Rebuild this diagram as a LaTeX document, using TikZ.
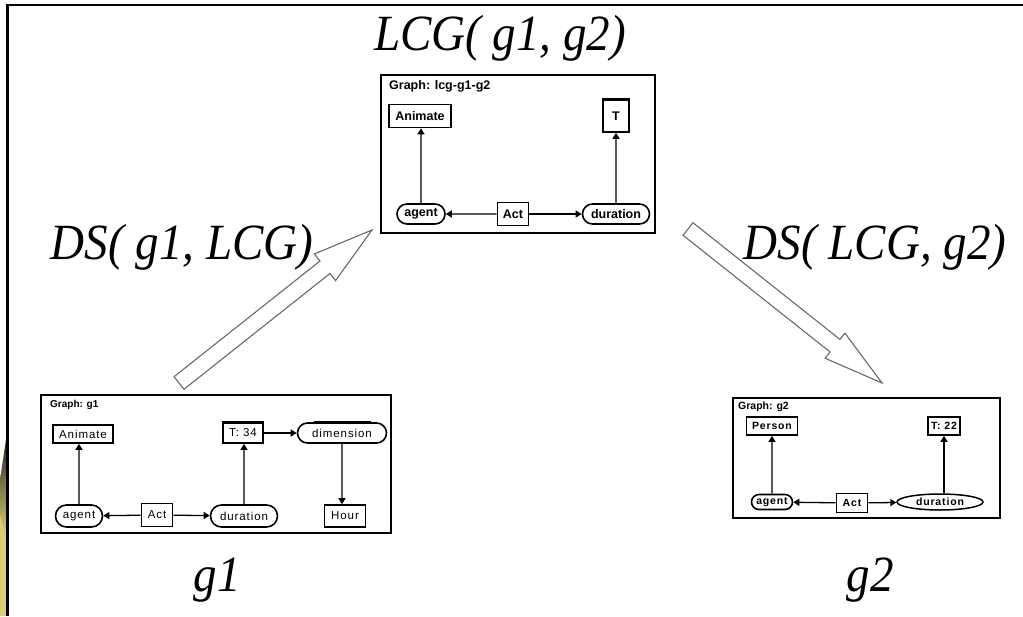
\documentclass[tikz,border=0pt]{standalone}
\usepackage{fontspec}
\setmainfont{Liberation Serif}
\newfontfamily\cgsans{Liberation Sans}
\newfontfamily\cgspaced{Liberation Sans}[LetterSpace=8]
\usetikzlibrary{arrows.meta,shapes.misc,shapes.geometric,calc}
\definecolor{khaki}{RGB}{214,204,122}
\definecolor{arrowgray}{RGB}{105,105,105}
\begin{document}
\begin{tikzpicture}[x=1pt,y=-1pt,
  biglabel/.style={font=\fontsize{47}{56}\selectfont\itshape, inner sep=0pt, anchor=base, yscale=1.08},
  graphbox/.style={draw, rectangle, line width=1.8pt, inner sep=0pt},
  graphname/.style={anchor=west, inner sep=0pt},
  concept/.style={draw, rectangle, line width=1.6pt, inner sep=0pt},
  relation/.style={draw, rounded rectangle, line width=1.6pt, inner sep=0pt},
  ovalrel/.style={draw, ellipse, line width=1.5pt, inner sep=0pt},
  link/.style={line width=1.3pt, -{Triangle[length=6pt,width=7pt]}},
  heavytop/.style={line width=3pt},
  blockarrow/.style={draw=arrowgray, fill=white, line width=1.1pt, line join=miter},
  lcgfont/.style={font=\cgsans\bfseries\fontsize{12.5}{14}\selectfont},
  gonefont/.style={font=\cgspaced\fontsize{11.5}{13}\selectfont},
  gtwofont/.style={font=\cgspaced\bfseries\fontsize{10.5}{12}\selectfont}
]
\useasboundingbox (0,0) rectangle (1023,616);

% page frame and the dark/khaki strip on the left edge
\fill[khaki] (0,480) -- (6,440) -- (6,616) -- (0,616) -- cycle;
\shade[top color=black!85, bottom color=khaki] (0,480) -- (6,440) -- (6,535) -- (0,515) -- cycle;
\coordinate (fbl) at (7.5,616);
\coordinate (ftl) at (7.5,5);
\coordinate (ftr) at (1023,5);
\draw[line width=2.8pt] (fbl) -- (ftl) -- (ftr);

% headings
\node[biglabel] (title) at (500,50) {LCG( g1, g2)};
\node[biglabel] (dsone) at (182,259) {DS( g1, LCG)};
\node[biglabel] (dstwo) at (875,259) {DS( LCG, g2)};
\node[biglabel] (gonelab) at (217,591) {g1};
\node[biglabel] (gtwolab) at (870,591) {g2};

% ---------- graph lcg-g1-g2 ----------
\node[graphbox, minimum width=274pt, minimum height=158pt] (lcgbox) at (518,154) {};
\node[graphname, lcgfont] (lcgname) at (389,86) {Graph: lcg-g1-g2};
\node[concept, lcgfont, minimum width=62pt, minimum height=23pt] (lAnimate) at (420,116) {Animate};
\node[concept, lcgfont, minimum width=26pt, minimum height=32pt] (lT) at (616,116) {T};
\draw[heavytop] (lT.north west) -- (lT.north east);
\node[relation, lcgfont, minimum width=48pt, minimum height=20pt] (lagent) at (421,214) {agent};
\node[concept, lcgfont, minimum width=31pt, minimum height=23pt] (lAct) at (513,214) {Act};
\node[relation, lcgfont, minimum width=67pt, minimum height=20pt] (lduration) at (616,214) {duration};
\draw[link] (lAct) -- (lagent);
\draw[link] (lAct) -- (lduration);
\draw[link] (lagent) -- (lagent |- lAnimate.south);
\draw[link] (lduration) -- (lT);

% ---------- graph g1 ----------
\node[graphbox, line width=1.5pt, minimum width=350pt, minimum height=138pt] (gonebox) at (216,464) {};
\node[graphname, font=\cgsans\bfseries\fontsize{10}{12}\selectfont] (gonename) at (50,405) {Graph: g1};
\node[concept, gonefont, minimum width=60pt, minimum height=18pt] (aAnimate) at (83,434) {Animate};
\node[concept, gonefont, minimum width=40pt, minimum height=20pt] (aT) at (243,433) {T: 34};
\draw[heavytop] (aT.north west) -- (aT.north east);
\node[relation, gonefont, minimum width=89pt, minimum height=20pt] (adimension) at (342,433) {dimension};
\draw[heavytop] ([xshift=6pt]adimension.north west) -- ([xshift=-6pt]adimension.north east);
\node[relation, gonefont, minimum width=47pt, minimum height=22pt] (aagent) at (79,516) {agent};
\node[concept, gonefont, minimum width=31pt, minimum height=23pt] (aAct) at (157,515) {Act};
\node[relation, gonefont, minimum width=67pt, minimum height=22pt] (aduration) at (244,516) {duration};
\node[concept, gonefont, minimum width=41pt, minimum height=22pt] (aHour) at (345,516) {Hour};
\draw[link] (aAct) -- (aagent);
\draw[link] (aAct) -- (aduration);
\draw[link] (aagent) -- (aagent |- aAnimate.south);
\draw[link] (aduration) -- (aduration |- aT.south);
\draw[link] (aT) -- (adimension);
\draw[link] (adimension) -- (adimension |- aHour.north);

% ---------- graph g2 ----------
\node[graphbox, line width=1.5pt, minimum width=267pt, minimum height=120pt] (gtwobox) at (866.5,458) {};
\node[graphname, font=\cgsans\bfseries\fontsize{10.5}{12}\selectfont] (gtwoname) at (738,407) {Graph: g2};
\node[concept, gtwofont, minimum width=51pt, minimum height=18pt] (bPerson) at (772,426) {Person};
\node[concept, gtwofont, minimum width=32pt, minimum height=18pt] (bT) at (944,426) {T: 22};
\node[relation, gtwofont, minimum width=41pt, minimum height=15pt] (bagent) at (772,502) {agent};
\node[concept, gtwofont, minimum width=31pt, minimum height=19pt] (bAct) at (852,503) {Act};
\node[ovalrel, gtwofont, minimum width=86pt, minimum height=16pt] (bduration) at (940,502) {duration};
\draw[link] (bAct) -- (bagent);
\draw[link] (bAct) -- (bduration);
\draw[link] (bagent) -- (bPerson);
\draw[link] (bduration.north -| bT) -- (bT);

% ---------- block arrows ----------
\coordinate (tone) at (179,383);
\coordinate (hone) at (372,230);
\coordinate (none) at ($(hone)!60pt!(tone)$);
\draw[blockarrow] ($(tone)!8pt!90:(hone)$) -- ($(none)!8pt!90:(hone)$) -- ($(none)!17pt!90:(hone)$)
  -- (hone) -- ($(none)!17pt!-90:(hone)$) -- ($(none)!8pt!-90:(hone)$) -- ($(tone)!8pt!-90:(hone)$) -- cycle;

\coordinate (ttwo) at (688,229);
\coordinate (htwo) at (882,383);
\coordinate (ntwo) at ($(htwo)!60pt!(ttwo)$);
\draw[blockarrow] ($(ttwo)!8pt!90:(htwo)$) -- ($(ntwo)!8pt!90:(htwo)$) -- ($(ntwo)!16pt!90:(htwo)$)
  -- (htwo) -- ($(ntwo)!16pt!-90:(htwo)$) -- ($(ntwo)!8pt!-90:(htwo)$) -- ($(ttwo)!8pt!-90:(htwo)$) -- cycle;
\end{tikzpicture}
\end{document}
